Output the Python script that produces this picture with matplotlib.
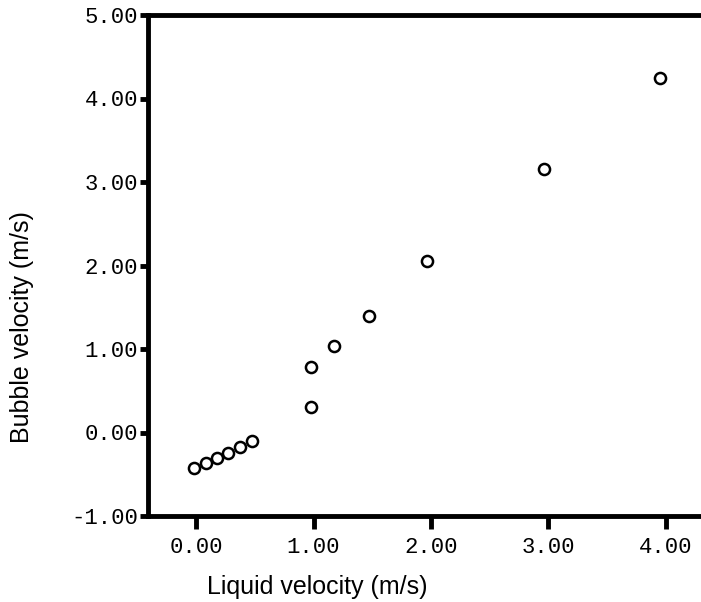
import matplotlib
matplotlib.use("Agg")
import matplotlib.pyplot as plt

liquid_velocity = [-0.02, 0.08, 0.18, 0.27, 0.37, 0.48, 0.98, 0.98, 1.17, 1.47, 1.97, 2.96, 3.95]
bubble_velocity = [-0.42, -0.37, -0.31, -0.24, -0.17, -0.10, 0.30, 0.78, 1.04, 1.40, 2.05, 3.16, 4.25]
x_ticks = [0, 1, 2, 3, 4]
y_ticks = [-1, 0, 1, 2, 3, 4, 5]

fig = plt.figure(figsize=(7.01, 6.02), dpi=100)
ax = fig.add_axes([148/701, 1-516/602, 1-148/701, (516-15)/602])
ax.plot(liquid_velocity, bubble_velocity, 'o', mfc='white', mec='black', ms=8, mew=1.8, ls='none')
ax.set_xlim(-0.41, 4.30)
ax.set_ylim(-1, 5)
ax.set_xticks(x_ticks)
ax.set_xticklabels([f"{v:.2f}" for v in x_ticks], family='Liberation Mono', fontsize=16)
ax.set_yticks(y_ticks)
ax.set_yticklabels([f"{v:.2f}" for v in y_ticks], family='Liberation Mono', fontsize=16)
for s in ['left', 'bottom', 'top']:
    ax.spines[s].set_linewidth(3.5)
ax.spines['right'].set_visible(False)
ax.tick_params(axis='x', length=9, width=3.5, pad=6)
ax.tick_params(axis='y', length=6, width=3.5, pad=1)
ax.set_xlabel('Liquid velocity (m/s)', family='Liberation Sans', fontsize=18)
ax.set_ylabel('Bubble velocity (m/s)', family='Liberation Sans', fontsize=18)
ax.xaxis.set_label_coords(0.306, -0.118)
ax.yaxis.set_label_coords(-0.206, 0.377)
fig.savefig('out.png', dpi=100)
